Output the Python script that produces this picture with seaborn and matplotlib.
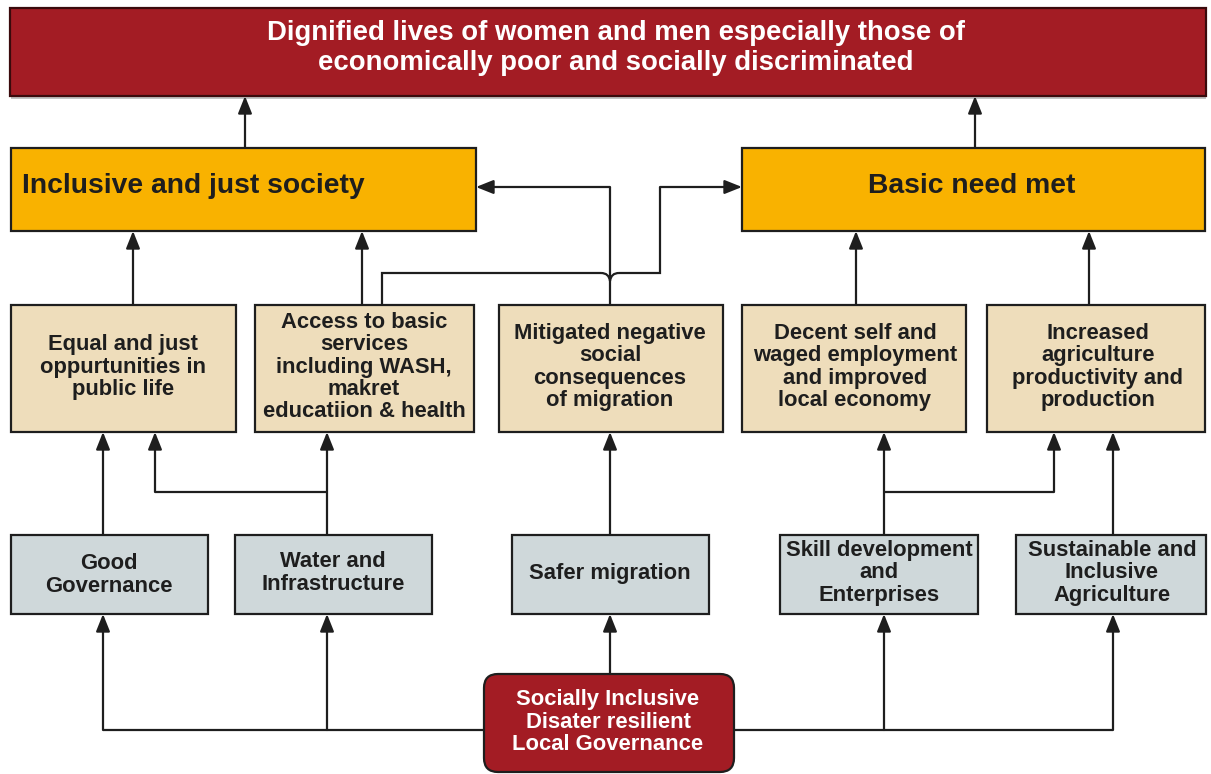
import matplotlib
matplotlib.use("Agg")
import matplotlib.pyplot as plt
import seaborn as sns
from matplotlib.patches import Rectangle, FancyBboxPatch
from matplotlib.path import Path
from matplotlib.patches import PathPatch

sns.set_theme(style="white")
plt.rcParams['font.family'] = ['Liberation Sans', 'DejaVu Sans']

# ---- content ----
goal_text = "Dignified lives of women and men especially those of\neconomically poor and socially discriminated"
outcome_labels = ["Inclusive and just society", "Basic need met"]
output_labels = [
    "Equal and just\noppurtunities in\npublic life",
    "Access to basic\nservices\nincluding WASH,\nmakret\neducatiion & health",
    "Mitigated negative\nsocial\nconsequences\nof migration",
    "Decent self and\nwaged employment\nand improved\nlocal economy",
    "Increased\nagriculture\nproductivity and\nproduction",
]
program_labels = [
    "Good\nGovernance",
    "Water and\nInfrastructure",
    "Safer migration",
    "Skill development\nand\nEnterprises",
    "Sustainable and\nInclusive\nAgriculture",
]
base_label = "Socially Inclusive\nDisater resilient\nLocal Governance"

# ---- colours ----
RED = "#A31C24"
ORANGE = "#F9B200"
TAN = "#EEDDBB"
GREY = "#CFD8DA"
INK = "#1E1E1E"

W, H = 1211, 774
fig = plt.figure(figsize=(W / 100, H / 100), dpi=100)
ax = fig.add_axes([0, 0, 1, 1])
ax.set_xlim(0, W)
ax.set_ylim(H, 0)
ax.axis("off")

LW = 1.6
FS_BIG = 19.8
FS_BOX = 15.8
LS_BOX = 1.08


def box(x0, y0, x1, y1, fc, ec=INK, lw=LW):
    ax.add_patch(Rectangle((x0, y0), x1 - x0, y1 - y0, facecolor=fc,
                           edgecolor=ec, lw=lw, zorder=2))


def line(pts):
    xs = [p[0] for p in pts]
    ys = [p[1] for p in pts]
    ax.plot(xs, ys, color=INK, lw=LW, zorder=1, solid_capstyle="butt",
            solid_joinstyle="miter")


def arrow(pts):
    if len(pts) > 2:
        line(pts[:-1])
    ax.annotate("", xy=pts[-1], xytext=pts[-2],
                arrowprops=dict(arrowstyle="-|>,head_length=0.75,head_width=0.3",
                                lw=LW, color=INK, shrinkA=0, shrinkB=0,
                                mutation_scale=14), zorder=1)


# ---- top goal ----
ax.add_patch(Rectangle((11, 96), 1195, 3, facecolor="#c4c4c4", edgecolor="none", zorder=1))
box(10, 8, 1206, 96, RED, ec="#3a0a0c")
ax.text(616, 48, goal_text, ha="center", va="center", color="white",
        fontsize=FS_BIG, fontweight="bold", linespacing=1.15, zorder=3)

# ---- outcomes ----
box(11, 148, 476, 231, ORANGE)
box(742, 148, 1205, 231, ORANGE)
ax.text(22, 186, outcome_labels[0], ha="left", va="center", color=INK,
        fontsize=20.3, fontweight="bold", zorder=3)
ax.text(972, 186, outcome_labels[1], ha="center", va="center", color=INK,
        fontsize=20.3, fontweight="bold", zorder=3)

# ---- outputs ----
out_x = [(11, 236), (255, 474), (499, 723), (742, 966), (987, 1205)]
out_tx = [123, 364, 610, 855, 1098]
out_ty = [367, 367, 367, 367, 367]
for (x0, x1), tx, ty, lab in zip(out_x, out_tx, out_ty, output_labels):
    box(x0, 305, x1, 432, TAN)
    ax.text(tx, ty, lab, ha="center", va="center", color=INK,
            fontsize=FS_BOX, fontweight="bold", linespacing=LS_BOX, zorder=3)

# ---- programmes ----
prog_x = [(11, 208), (235, 432), (512, 709), (780, 978), (1016, 1206)]
prog_tx = [109, 333, 610, 879, 1112]
prog_ty = [575, 573, 573, 573, 573]
for (x0, x1), tx, ty, lab in zip(prog_x, prog_tx, prog_ty, program_labels):
    box(x0, 535, x1, 614, GREY)
    ax.text(tx, ty, lab, ha="center", va="center", color=INK,
            fontsize=FS_BOX, fontweight="bold", linespacing=LS_BOX, zorder=3)

# ---- base ----
ax.add_patch(FancyBboxPatch((484, 674), 250, 98,
                            boxstyle="round,pad=0,rounding_size=14",
                            facecolor=RED, edgecolor=INK, lw=LW, zorder=2))
ax.text(608, 722, base_label, ha="center", va="center", color="white",
        fontsize=FS_BOX, fontweight="bold", linespacing=LS_BOX, zorder=3)

# ---- connectors ----
# outcomes -> goal
arrow([(245, 148), (245, 96)])
arrow([(975, 148), (975, 96)])
# outputs -> outcomes
arrow([(133, 305), (133, 231)])
arrow([(362, 305), (362, 231)])
arrow([(856, 305), (856, 231)])
arrow([(1089, 305), (1089, 231)])
# migration output -> inclusive society
arrow([(610, 305), (610, 187), (476, 187)])
# access output -> basic need (with bridge over vertical line)
line([(382, 305), (382, 273), (601, 273)])
ax.add_patch(PathPatch(Path([(601, 273), (609, 273), (610, 281)],
                            [Path.MOVETO, Path.CURVE3, Path.CURVE3]),
                       fill=False, lw=LW, edgecolor=INK, zorder=1))
ax.add_patch(PathPatch(Path([(610, 281), (611, 273), (619, 273)],
                            [Path.MOVETO, Path.CURVE3, Path.CURVE3]),
                       fill=False, lw=LW, edgecolor=INK, zorder=1))
arrow([(619, 273), (660, 273), (660, 187), (742, 187)])

# programmes -> outputs
arrow([(103, 535), (103, 432)])
arrow([(327, 535), (327, 432)])
arrow([(327, 492), (155, 492), (155, 432)])
arrow([(610, 535), (610, 432)])
arrow([(884, 535), (884, 432)])
arrow([(884, 492), (1054, 492), (1054, 432)])
arrow([(1113, 535), (1113, 432)])

# base -> programmes
arrow([(484, 730), (103, 730), (103, 614)])
arrow([(327, 730), (327, 614)])
arrow([(610, 674), (610, 614)])
arrow([(734, 730), (1113, 730), (1113, 614)])
arrow([(884, 730), (884, 614)])

fig.savefig("out.png", dpi=100)
